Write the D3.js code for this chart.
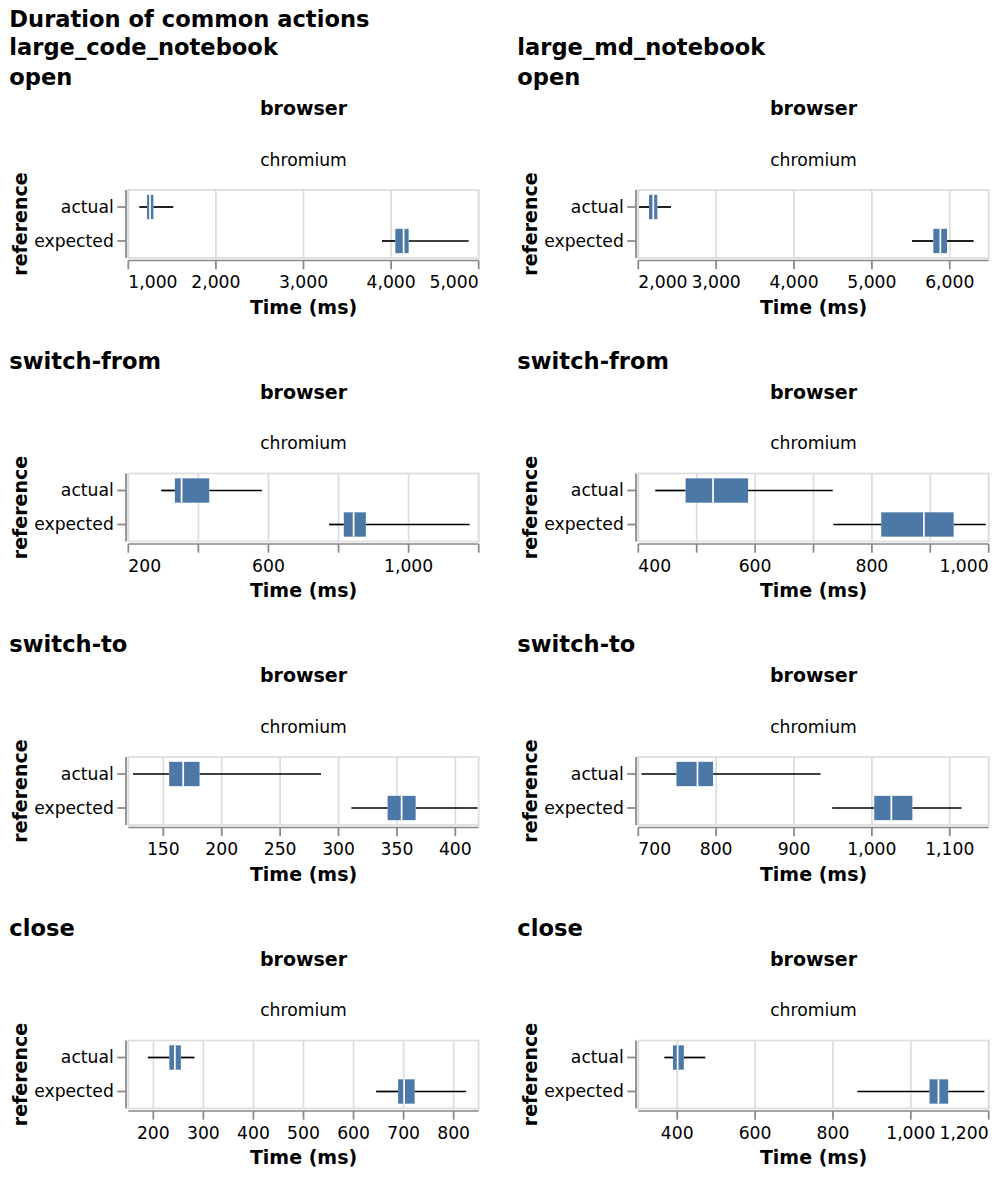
<!DOCTYPE html>
<html>
<head>
<meta charset="utf-8">
<script src="https://cdn.jsdelivr.net/npm/d3@7"></script>
<style>
  html, body { margin: 0; padding: 0; background: #fff; }
  svg { display: block; }
  text { font-family: "DejaVu Sans", Verdana, sans-serif; fill: #000; }
</style>
</head>
<body>
<svg id="chart" width="1000" height="1177"></svg>
<script>
// ---------- data ----------
const chartTitle = "Duration of common actions";
const notebooks = ["large_code_notebook", "large_md_notebook"];
const actions = ["open", "switch-from", "switch-to", "close"];
const references = ["actual", "expected"];
const browserName = "chromium";

// five-number summaries [min, q1, median, q3, max] per action (ms)
const codeActual   = [[1126, 1214, 1248, 1286, 1514], [294, 333, 352, 431, 581], [124, 155, 167, 181, 285], [189, 232, 243, 255, 282]];
const codeExpected = [[3896, 4048, 4143, 4200, 4886], [773, 815, 843, 878, 1174], [311, 342, 354, 366, 419], [645, 689, 701, 722, 825]];
const mdActual     = [[2010, 2138, 2193, 2244, 2420], [429, 481, 528, 588, 733], [704, 749, 776, 796, 934], [367, 389, 401, 417, 472]];
const mdExpected   = [[5515, 5789, 5879, 5965, 6307], [734, 816, 889, 940, 995], [949, 1003, 1025, 1052, 1115], [863, 1048, 1071, 1096, 1189]];

// axis domains and ticks per action
const codeDomains = [[1000, 5000], [200, 1200], [120, 420], [150, 850]];
const mdDomains   = [[2000, 6500], [400, 1000], [700, 1150], [300, 1200]];
const codeTicks = [[1000, 2000, 3000, 4000, 5000], [200, 400, 600, 800, 1000, 1200], [150, 200, 250, 300, 350, 400], [200, 300, 400, 500, 600, 700, 800]];
const mdTicks   = [[2000, 3000, 4000, 5000, 6000], [400, 500, 600, 700, 800, 900, 1000], [700, 800, 900, 1000, 1100], [400, 600, 800, 1000, 1200]];
const codeLabels = [[1000, 2000, 3000, 4000, 5000], [200, 600, 1000], [150, 200, 250, 300, 350, 400], [200, 300, 400, 500, 600, 700, 800]];
const mdLabels   = [[2000, 3000, 4000, 5000, 6000], [400, 600, 800, 1000], [700, 800, 900, 1000, 1100], [400, 600, 800, 1000, 1200]];

// ---------- layout ----------
const svg = d3.select("#chart");
svg.append("rect").attr("width", 1000).attr("height", 1177).attr("fill", "#fff");

const colX = [128.3, 638.3];
const titleX = [9.3, 517.3];
const W = 350.4, H = 68;
const rowTop = [190, 473.5, 757, 1040.5];
const S = 1.739; // scale factor
const boxSize = 14 * S;
const fs = { title: 22.6, axisTitle: 19, label: 17.2, header: 17.2 };
const fmt = d3.format(",");

const summaries = [[codeActual, codeExpected], [mdActual, mdExpected]];
const domains = [codeDomains, mdDomains];
const ticks = [codeTicks, mdTicks];
const labels = [codeLabels, mdLabels];

svg.append("text").attr("x", titleX[0]).attr("y", 26.5)
  .attr("font-size", fs.title).attr("font-weight", "bold").text(chartTitle);

notebooks.forEach((nb, c) => {
  svg.append("text").attr("x", titleX[c]).attr("y", 55)
    .attr("font-size", fs.title).attr("font-weight", "bold").text(nb);

  actions.forEach((act, r) => {
    const top = rowTop[r];
    const left = colX[c];
    const g = svg.append("g");

    // row title
    g.append("text").attr("x", titleX[c]).attr("y", top - 105)
      .attr("font-size", fs.title).attr("font-weight", "bold").text(act);

    // header
    g.append("text").attr("x", left + W / 2).attr("y", top - 75)
      .attr("text-anchor", "middle").attr("font-size", fs.axisTitle)
      .attr("font-weight", "bold").text("browser");
    g.append("text").attr("x", left + W / 2).attr("y", top - 24.3)
      .attr("text-anchor", "middle").attr("font-size", fs.header).text(browserName);

    const x = d3.scaleLinear().domain(domains[c][r]).range([left, left + W]);
    const y = d3.scaleBand().domain(references).range([top, top + H]).padding(0);

    // grid
    g.selectAll(".grid").data(ticks[c][r]).join("line")
      .attr("x1", d => x(d)).attr("x2", d => x(d))
      .attr("y1", top).attr("y2", top + H)
      .attr("stroke", "#ddd").attr("stroke-width", S);

    // frame
    g.append("rect").attr("x", left).attr("y", top).attr("width", W).attr("height", H)
      .attr("fill", "none").attr("stroke", "#ddd").attr("stroke-width", S);

    // boxplots
    references.forEach((ref, k) => {
      const [mn, q1, md, q3, mx] = summaries[c][k][r];
      const cy = y(ref) + y.bandwidth() / 2;
      g.append("line").attr("x1", x(mn)).attr("x2", x(q1)).attr("y1", cy).attr("y2", cy)
        .attr("stroke", "#000").attr("stroke-width", S);
      g.append("line").attr("x1", x(q3)).attr("x2", x(mx)).attr("y1", cy).attr("y2", cy)
        .attr("stroke", "#000").attr("stroke-width", S);
      g.append("rect").attr("x", x(q1)).attr("y", cy - boxSize / 2)
        .attr("width", x(q3) - x(q1)).attr("height", boxSize).attr("fill", "#4c78a8");
      g.append("line").attr("x1", x(md)).attr("x2", x(md))
        .attr("y1", cy - boxSize / 2).attr("y2", cy + boxSize / 2)
        .attr("stroke", "#fff").attr("stroke-width", S);
    });

    // x axis
    const axY = top + H + 2.5;
    g.append("line").attr("x1", left).attr("x2", left + W).attr("y1", axY).attr("y2", axY)
      .attr("stroke", "#888").attr("stroke-width", S);
    g.selectAll(".xt").data(ticks[c][r]).join("line")
      .attr("x1", d => x(d)).attr("x2", d => x(d)).attr("y1", axY).attr("y2", axY + 5 * S)
      .attr("stroke", "#888").attr("stroke-width", S);
    g.selectAll(".xl").data(labels[c][r]).join("text")
      .attr("x", d => x(d)).attr("y", top + H + 30.3)
      .attr("font-size", fs.label)
      .attr("text-anchor", d => Math.abs(x(d) - left) < 1 ? "start" : (Math.abs(x(d) - left - W) < 1 ? "end" : "middle"))
      .text(d => fmt(d));
    g.append("text").attr("x", left + W / 2).attr("y", top + H + 55.5)
      .attr("text-anchor", "middle").attr("font-size", fs.axisTitle).attr("font-weight", "bold")
      .text("Time (ms)");

    // y axis
    const axX = left - 2.3;
    g.append("line").attr("x1", axX).attr("x2", axX).attr("y1", top).attr("y2", top + H)
      .attr("stroke", "#888").attr("stroke-width", S);
    references.forEach(ref => {
      const cy = y(ref) + y.bandwidth() / 2;
      g.append("line").attr("x1", axX - 5 * S).attr("x2", axX).attr("y1", cy).attr("y2", cy)
        .attr("stroke", "#888").attr("stroke-width", S);
      g.append("text").attr("x", axX - 5 * S - 3.5).attr("y", cy + 5.8)
        .attr("text-anchor", "end").attr("font-size", fs.label).text(ref);
    });
    g.append("text")
      .attr("transform", `translate(${left - 101.8},${top + H / 2}) rotate(-90)`)
      .attr("text-anchor", "middle").attr("font-size", fs.axisTitle).attr("font-weight", "bold")
      .text("reference");
  });
});
</script>
</body>
</html>
